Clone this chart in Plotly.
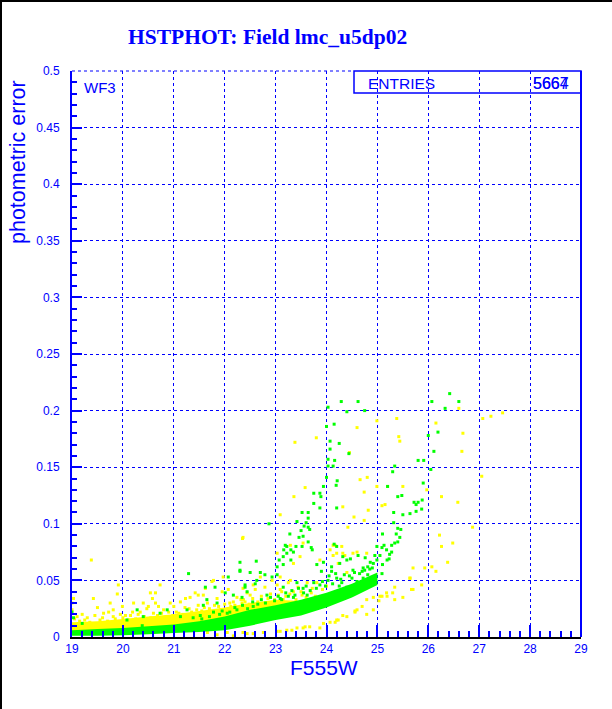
import plotly.graph_objects as go

# ---------------- data ----------------
title_text = "HSTPHOT: Field lmc_u5dp02"
x_title = "F555W"
y_title = "photometric error"
chip_label = "WF3"
stat_label = "ENTRIES"
stat_values = ["5664", "5667"]

x_ticks = [19, 20, 21, 22, 23, 24, 25, 26, 27, 28, 29]
y_ticks = [0, 0.05, 0.1, 0.15, 0.2, 0.25, 0.3, 0.35, 0.4, 0.45, 0.5]

# dense core of the green (main) sequence: envelope
green_band_x = [19.0, 19.5, 20.0, 20.5, 21.0, 21.5, 22.0, 22.5, 23.0, 23.5, 24.0, 24.5, 25.0]
green_band_lo = [0.001, 0.001, 0.0015, 0.0025, 0.0035, 0.0045, 0.006, 0.010, 0.015, 0.019, 0.026, 0.035, 0.046]
green_band_hi = [0.006, 0.007, 0.008, 0.0095, 0.011, 0.014, 0.018, 0.024, 0.028, 0.033, 0.039, 0.047, 0.057]

# dense core of the yellow cloud: envelope
yellow_core_x = [19.0, 19.5, 20.0, 20.5, 21.0, 21.5, 22.0, 22.5, 23.0, 23.4]
yellow_core_lo = [0.003, 0.003, 0.004, 0.005, 0.006, 0.008, 0.010, 0.014, 0.020, 0.026]
yellow_core_hi = [0.013, 0.014, 0.016, 0.018, 0.020, 0.023, 0.026, 0.030, 0.033, 0.032]

# individually visible yellow points
yellow_x = [
    19.0, 19.0, 19.03, 19.1, 19.38, 19.42, 19.5, 19.62, 19.75, 19.81,
    19.81, 19.89, 19.91, 19.95, 19.99, 20.05, 20.19, 20.21, 20.34, 20.4,
    20.47, 20.5, 20.54, 20.58, 20.64, 20.64, 20.7, 20.73, 20.76, 20.8,
    20.93, 21.0, 21.05, 21.13, 21.23, 21.3, 21.32, 21.42, 21.48, 21.48,
    21.58, 21.62, 21.66, 21.7, 21.75, 21.78, 21.8, 21.85, 21.95, 21.97,
    22.07, 22.1, 22.17, 22.24, 22.34, 22.35, 22.36, 22.36, 22.37, 22.44,
    22.5, 22.56, 22.6, 22.7, 22.79, 22.83, 22.93, 22.96, 23.03, 23.03,
    23.09, 23.09, 23.09, 23.15, 23.25, 23.25, 23.29, 23.29, 23.35, 23.35,
    23.36, 23.38, 23.44, 23.48, 23.48, 23.52, 23.54, 23.58, 23.62, 23.72,
    23.8, 23.81, 23.87, 24.07, 24.13, 24.13, 24.17, 24.2, 24.23, 24.3,
    24.32, 24.32, 24.36, 24.4, 24.42, 24.45, 24.52, 24.54, 24.6, 24.6,
    24.66, 24.74, 24.74, 24.79, 24.8, 24.82, 24.99, 24.99, 25.09, 25.15,
    25.2, 25.38, 25.42, 25.44, 25.5, 25.64, 25.7, 25.93, 25.97, 26.07,
    26.15, 26.15, 26.22, 26.26, 26.26, 26.38, 26.48, 26.58, 26.6, 26.66,
    26.68, 26.87, 27.05, 27.07, 27.23, 27.46,
    21.66, 21.85, 22.05, 22.17, 22.36, 22.44, 22.56, 22.76, 23.03, 23.09,
    23.22, 23.32, 23.42, 23.54, 23.58, 23.67, 23.87, 23.94, 24.07, 24.17,
    24.2, 24.23, 24.32, 24.4, 24.56, 24.56, 24.6, 24.7, 24.79, 24.79,
    24.92, 24.92, 25.03, 25.05, 25.09, 25.18, 25.19, 25.3, 25.34, 25.34,
    25.5, 25.64, 25.67, 25.87, 25.7,
    19.05, 19.15, 19.2, 19.25, 19.3, 19.35, 19.45, 19.55, 19.6, 19.7,
    19.72, 19.85, 19.9, 20.0, 20.1, 20.15, 20.25, 20.3, 20.42, 20.55,
    20.6, 20.68, 20.85, 20.9, 20.98, 21.1, 21.18, 21.22, 21.35, 21.4,
    21.45, 21.55, 21.6, 21.72, 21.88, 21.92, 22.0, 22.12, 22.2, 22.28,
    22.32, 22.4, 22.48, 22.55, 22.65, 22.72, 22.85, 22.9, 22.98, 23.05,
    23.12, 23.2, 23.28, 23.4, 23.5, 23.6, 23.7, 23.78, 23.92, 24.0,
]
yellow_y = [
    0.030, 0.024, 0.034, 0.018, 0.068, 0.034, 0.026, 0.021, 0.030, 0.018,
    0.024, 0.038, 0.046, 0.020, 0.027, 0.019, 0.022, 0.030, 0.022, 0.030,
    0.025, 0.027, 0.039, 0.034, 0.039, 0.030, 0.027, 0.046, 0.021, 0.024,
    0.030, 0.027, 0.022, 0.031, 0.034, 0.025, 0.035, 0.039, 0.028, 0.037,
    0.037, 0.043, 0.030, 0.025, 0.049, 0.050, 0.028, 0.034, 0.040, 0.053,
    0.042, 0.030, 0.031, 0.035, 0.030, 0.087, 0.043, 0.088, 0.033, 0.039,
    0.037, 0.046, 0.042, 0.053, 0.044, 0.030, 0.050, 0.027, 0.046, 0.074,
    0.042, 0.053, 0.108, 0.033, 0.048, 0.022, 0.050, 0.081, 0.040, 0.065,
    0.124, 0.172, 0.044, 0.071, 0.024, 0.037, 0.083, 0.132, 0.048, 0.043,
    0.176, 0.048, 0.068, 0.077, 0.072, 0.081, 0.081, 0.074, 0.065, 0.080,
    0.115, 0.074, 0.072, 0.057, 0.097, 0.163, 0.074, 0.106, 0.075, 0.185,
    0.139, 0.128, 0.103, 0.074, 0.141, 0.112, 0.133, 0.191, 0.116, 0.117,
    0.133, 0.193, 0.177, 0.173, 0.133, 0.052, 0.042, 0.061, 0.130, 0.062,
    0.058, 0.189, 0.090, 0.080, 0.124, 0.066, 0.083, 0.119, 0.202, 0.164,
    0.180, 0.097, 0.142, 0.193, 0.195, 0.198,
    0.004, 0.002, 0.004, 0.001, 0.004, 0.003, 0.003, 0.004, 0.005, 0.005,
    0.006, 0.006, 0.008, 0.008, 0.009, 0.009, 0.008, 0.012, 0.013, 0.013,
    0.015, 0.015, 0.019, 0.018, 0.022, 0.023, 0.024, 0.027, 0.020, 0.033,
    0.035, 0.024, 0.032, 0.036, 0.036, 0.039, 0.036, 0.039, 0.033, 0.044,
    0.035, 0.052, 0.042, 0.046, 0.061,
    0.016, 0.014, 0.020, 0.015, 0.017, 0.013, 0.019, 0.015, 0.017, 0.014,
    0.022, 0.016, 0.013, 0.017, 0.015, 0.019, 0.016, 0.020, 0.018, 0.017,
    0.021, 0.019, 0.018, 0.022, 0.019, 0.021, 0.020, 0.026, 0.022, 0.020,
    0.024, 0.023, 0.026, 0.022, 0.027, 0.024, 0.029, 0.027, 0.028, 0.026,
    0.033, 0.031, 0.029, 0.034, 0.031, 0.036, 0.034, 0.038, 0.033, 0.037,
    0.040, 0.036, 0.038, 0.033, 0.040, 0.035, 0.039, 0.036, 0.042, 0.045,
]

# individually visible green points
green_x = [
    19.0, 19.03, 19.2, 20.08, 20.28, 20.38, 20.4, 20.73, 20.87, 21.13,
    21.26, 21.29, 21.38, 21.52, 21.58, 21.62, 21.65, 21.78, 21.81, 21.85,
    22.01, 22.05, 22.07, 22.17, 22.24, 22.3, 22.3, 22.34, 22.4, 22.4,
    22.44, 22.5, 22.56, 22.6, 22.62, 22.63, 22.7, 22.79, 22.83, 22.87,
    22.93, 23.03, 23.03, 23.07, 23.09, 23.15, 23.15, 23.15, 23.16, 23.19,
    23.22, 23.22, 23.28, 23.3, 23.3, 23.35, 23.35, 23.4, 23.42, 23.42,
    23.46, 23.5, 23.52, 23.52, 23.54, 23.54, 23.56, 23.6, 23.62, 23.64,
    23.64, 23.64, 23.64, 23.67, 23.7, 23.72, 23.75, 23.75, 23.81, 23.87,
    23.87, 23.87, 23.89, 23.94, 23.94, 24.0, 24.0, 24.03, 24.03, 24.03,
    24.03, 24.07, 24.07, 24.1, 24.13, 24.15, 24.15, 24.16, 24.19, 24.2,
    24.2, 24.2, 24.21, 24.25, 24.26, 24.29, 24.3, 24.4, 24.4, 24.4,
    24.44, 24.52, 24.6, 24.62, 24.72, 24.72, 24.75, 24.81, 24.81, 24.92,
    24.99, 24.99, 25.05, 25.09, 25.09, 25.1, 25.1, 25.13, 25.18, 25.19,
    25.2, 25.23, 25.24, 25.28, 25.28, 25.3, 25.32, 25.32, 25.34, 25.34,
    25.37, 25.4, 25.4, 25.4, 25.44, 25.46, 25.48, 25.5, 25.64, 25.72,
    25.76, 25.76, 25.8, 25.8, 25.87, 25.88, 25.9, 25.91, 26.0, 26.05,
    26.07, 26.11, 26.19, 26.33, 26.42, 26.6,
    24.32, 24.47, 24.62, 24.76, 24.86, 24.95, 23.9, 24.1, 22.3, 24.25,
    24.5, 24.7, 24.9,
    21.55, 21.7, 21.9, 21.95, 22.1, 22.2, 22.35, 22.45, 22.55, 22.65,
    22.72, 22.8, 22.9, 22.98, 23.05, 23.12, 23.2, 23.25, 23.32, 23.38,
    23.45, 23.55, 23.6, 23.68, 23.75, 23.8, 23.92, 23.98, 24.05, 24.12,
    24.18, 24.28, 24.35, 24.45, 24.55, 24.65, 24.75, 24.85,
]
green_y = [
    0.022, 0.017, 0.012, 0.015, 0.024, 0.010, 0.018, 0.021, 0.024, 0.018,
    0.024, 0.056, 0.017, 0.019, 0.028, 0.044, 0.033, 0.022, 0.044, 0.030,
    0.039, 0.021, 0.053, 0.037, 0.024, 0.066, 0.059, 0.035, 0.044, 0.046,
    0.040, 0.057, 0.027, 0.047, 0.067, 0.050, 0.057, 0.055, 0.037, 0.100,
    0.053, 0.055, 0.062, 0.068, 0.034, 0.071, 0.064, 0.044, 0.077, 0.081,
    0.074, 0.080, 0.091, 0.077, 0.068, 0.075, 0.035, 0.080, 0.102, 0.048,
    0.088, 0.094, 0.110, 0.080, 0.089, 0.043, 0.098, 0.101, 0.037, 0.110,
    0.105, 0.097, 0.084, 0.095, 0.079, 0.077, 0.127, 0.118, 0.064, 0.127,
    0.114, 0.046, 0.124, 0.133, 0.066, 0.141, 0.186, 0.203, 0.157, 0.151,
    0.050, 0.173, 0.166, 0.062, 0.151, 0.188, 0.082, 0.156, 0.134, 0.114,
    0.080, 0.052, 0.138, 0.171, 0.065, 0.208, 0.048, 0.199, 0.068, 0.044,
    0.162, 0.059, 0.049, 0.208, 0.061, 0.052, 0.200, 0.062, 0.055, 0.065,
    0.068, 0.080, 0.072, 0.056, 0.079, 0.064, 0.091, 0.081, 0.077, 0.068,
    0.133, 0.069, 0.073, 0.075, 0.081, 0.146, 0.101, 0.110, 0.151, 0.083,
    0.091, 0.084, 0.096, 0.124, 0.088, 0.095, 0.125, 0.108, 0.109, 0.119,
    0.111, 0.117, 0.119, 0.156, 0.113, 0.121, 0.136, 0.156, 0.178, 0.148,
    0.208, 0.164, 0.181, 0.202, 0.215, 0.208,
    0.071, 0.069, 0.072, 0.070, 0.066, 0.072, 0.058, 0.058, 0.058, 0.045,
    0.052, 0.058, 0.061,
    0.016, 0.018, 0.020, 0.023, 0.022, 0.026, 0.028, 0.025, 0.031, 0.029,
    0.033, 0.030, 0.035, 0.032, 0.036, 0.033, 0.039, 0.036, 0.041, 0.037,
    0.043, 0.039, 0.045, 0.041, 0.048, 0.043, 0.049, 0.045, 0.054, 0.047,
    0.056, 0.051, 0.055, 0.054, 0.057, 0.056, 0.059, 0.060,
]

# ---------------- styling ----------------
BLUE = "#0000FF"
YELLOW = "#FFFF00"
GREEN = "#00FF00"
W, H = 612, 709
ML, MR, MT, MB = 72, 31, 71, 72
PW, PH = W - ML - MR, H - MT - MB


def px(xp):
    return (xp - ML) / PW


def py(yp):
    return (H - MB - yp) / PH


def envelope(xs, lo, hi):
    return xs + xs[::-1], lo + hi[::-1]


fig = go.Figure()

cx, cy = envelope(yellow_core_x, yellow_core_lo, yellow_core_hi)
fig.add_trace(go.Scatter(x=cx, y=cy, fill="toself", fillcolor=YELLOW, mode="none", hoverinfo="skip"))
fig.add_trace(go.Scatter(
    x=yellow_x, y=yellow_y, mode="markers",
    marker=dict(symbol="square", size=3, color=YELLOW, line=dict(width=0))))
bx, by = envelope(green_band_x, green_band_lo, green_band_hi)
fig.add_trace(go.Scatter(x=bx, y=by, fill="toself", fillcolor=GREEN, mode="none", hoverinfo="skip"))
fig.add_trace(go.Scatter(
    x=green_x, y=green_y, mode="markers",
    marker=dict(symbol="square", size=3, color=GREEN, line=dict(width=0))))

tickfont = dict(family="Liberation Sans, Arial, sans-serif", size=12, color=BLUE)

fig.update_xaxes(
    range=[19, 29], tickvals=x_ticks, ticktext=[str(v) for v in x_ticks],
    showgrid=True, gridcolor=BLUE, gridwidth=1, griddash="dot",
    zeroline=False, showline=True, linecolor="black", linewidth=2,
    ticks="inside", ticklen=12, tickwidth=2, tickcolor=BLUE, tickfont=tickfont,
    minor=dict(ticks="inside", ticklen=6, tickwidth=1.5, tickcolor=BLUE, dtick=0.2, tick0=19, showgrid=False),
)
fig.update_yaxes(
    range=[0, 0.5], tickvals=y_ticks, ticktext=["0"] + [("%g" % v) for v in y_ticks[1:]],
    showgrid=True, gridcolor=BLUE, gridwidth=1, griddash="dot",
    zeroline=False, showline=True, linecolor=BLUE, linewidth=2,
    ticks="inside", ticklen=10, tickwidth=1.5, tickcolor=BLUE, tickfont=tickfont,
    ticklabelstandoff=8,
    minor=dict(ticks="inside", ticklen=5, tickwidth=1.5, tickcolor=BLUE, dtick=0.01, tick0=0, showgrid=False),
)

annotations = [
    dict(text="<b>%s</b>" % title_text, x=px(267), y=py(37), xanchor="center", yanchor="middle",
         font=dict(family="Liberation Serif, Times New Roman, serif", size=21.5, color=BLUE)),
    dict(text=y_title, x=px(18), y=py(162), xanchor="center", yanchor="middle", textangle=-90,
         font=dict(family="Liberation Sans, Arial, sans-serif", size=21.5, color=BLUE)),
    dict(text=x_title, x=px(360), y=py(667), xanchor="right", yanchor="middle",
         font=dict(family="Liberation Sans, Arial, sans-serif", size=21, color=BLUE)),
    dict(text=chip_label, x=px(82), y=py(87.5), xanchor="left", yanchor="middle",
         font=dict(family="Liberation Sans, Arial, sans-serif", size=15, color=BLUE)),
    dict(text=stat_label, x=px(366), y=py(83), xanchor="left", yanchor="middle",
         font=dict(family="Liberation Sans, Arial, sans-serif", size=15.5, color=BLUE)),
]
for v in stat_values:
    annotations.append(dict(text=v, x=px(571), y=py(83), xanchor="right", yanchor="middle",
                            font=dict(family="Liberation Sans, Arial, sans-serif", size=16, color=BLUE)))
for a in annotations:
    a.update(xref="paper", yref="paper", showarrow=False)

shapes = [
    # statistics box
    dict(type="rect", xref="paper", yref="paper", x0=px(354), x1=1, y0=py(93), y1=1,
         line=dict(color=BLUE, width=1.5), fillcolor="rgba(0,0,0,0)"),
    # right frame of the plot
    dict(type="line", xref="paper", yref="paper", x0=1, x1=1, y0=0, y1=1, line=dict(color=BLUE, width=2)),
    # top frame (dotted)
    dict(type="line", xref="paper", yref="paper", x0=0, x1=px(354), y0=1, y1=1,
         line=dict(color=BLUE, width=1, dash="dot")),
    # page frame (left and top)
    dict(type="line", xref="paper", yref="paper", x0=px(1), x1=px(1), y0=py(H), y1=py(0),
         line=dict(color="black", width=2)),
    dict(type="line", xref="paper", yref="paper", x0=px(0), x1=px(W), y0=py(1), y1=py(1),
         line=dict(color="black", width=2)),
]

fig.update_layout(
    width=W, height=H, margin=dict(l=ML, r=MR, t=MT, b=MB, autoexpand=False),
    paper_bgcolor="white", plot_bgcolor="white", showlegend=False,
    annotations=annotations, shapes=shapes,
)

fig.write_html("out.html", config={"displayModeBar": False},
               post_script="document.body.style.margin='0';")
